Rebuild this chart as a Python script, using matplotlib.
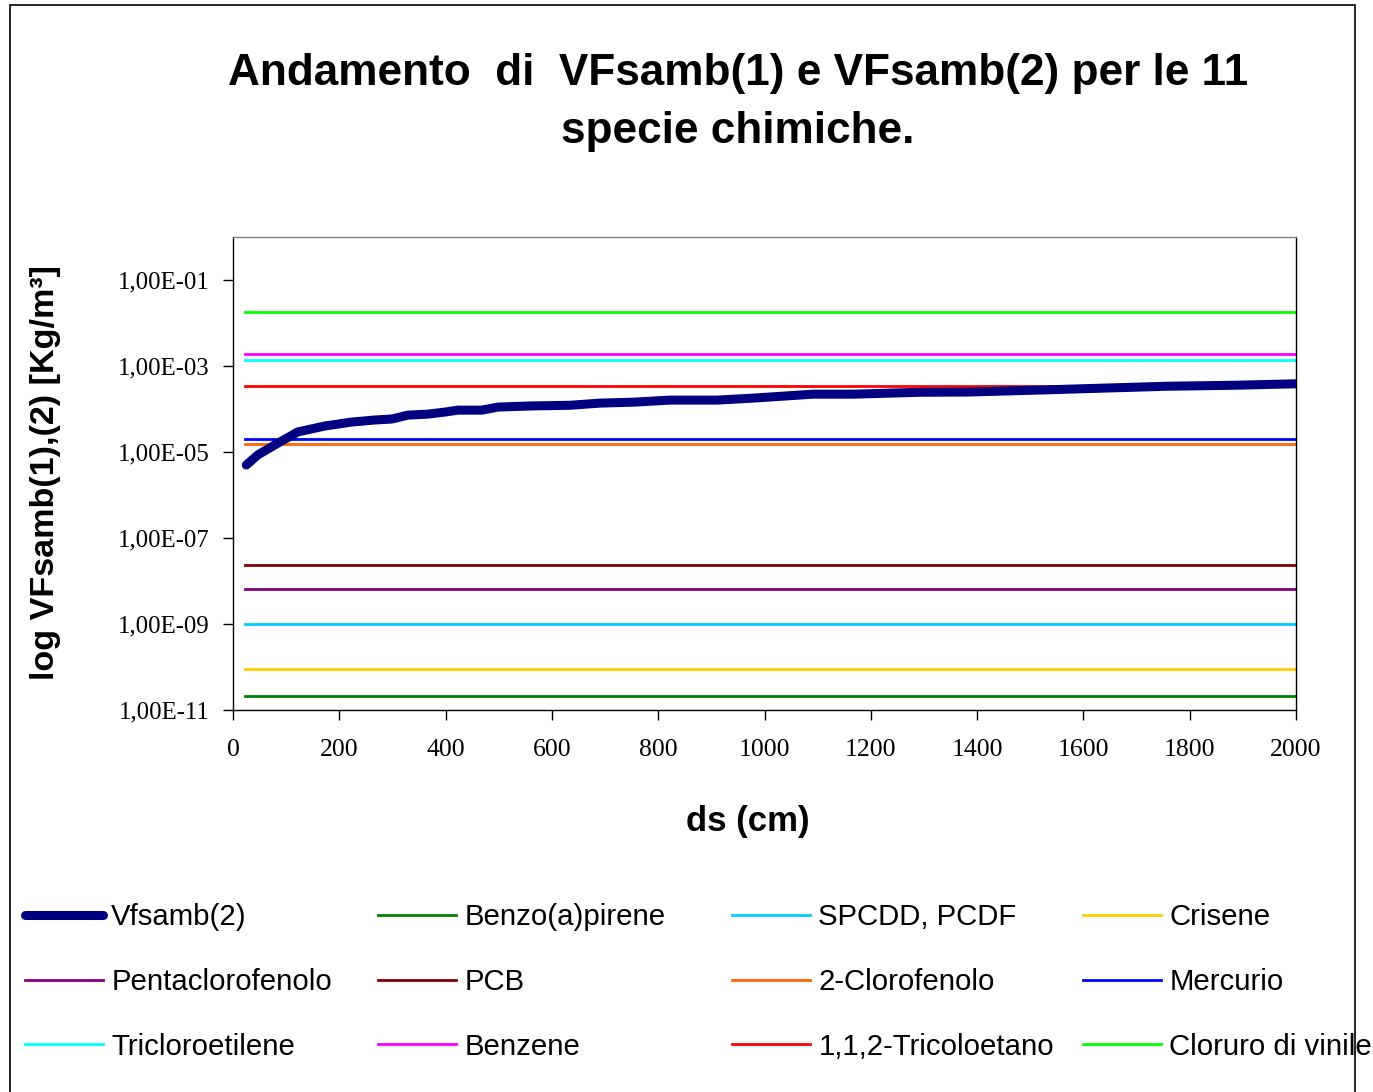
import matplotlib
matplotlib.use('Agg')
import matplotlib.pyplot as plt
from matplotlib.patches import Rectangle
from matplotlib.ticker import FixedLocator, FuncFormatter

# VFsamb(2) curve
ds = [25, 47, 79, 122, 173, 224, 267, 299, 329, 367, 399, 423, 468, 499,
      563, 634, 690, 753, 822, 911, 978, 1091, 1166, 1230, 1293, 1381,
      1505, 1631, 1757, 1881, 2000]
vf2 = [4.98e-6, 8.6e-6, 1.47e-5, 2.93e-5, 4.03e-5, 4.98e-5, 5.55e-5, 5.85e-5,
       7.2e-5, 7.6e-5, 8.5e-5, 9.4e-5, 9.4e-5, 1.11e-4, 1.18e-4, 1.22e-4,
       1.37e-4, 1.44e-4, 1.61e-4, 1.61e-4, 1.79e-4, 2.21e-4, 2.21e-4,
       2.33e-4, 2.45e-4, 2.48e-4, 2.73e-4, 3.04e-4, 3.38e-4, 3.56e-4, 3.86e-4]

# VFsamb(1): constant per species
ds_range = [22, 2000]
species = ['Benzo(a)pirene', 'SPCDD, PCDF', 'Crisene', 'Pentaclorofenolo',
           'PCB', '2-Clorofenolo', 'Mercurio', 'Tricloroetilene', 'Benzene',
           '1,1,2-Tricoloetano', 'Cloruro di vinile']
vf1 = [2.1e-11, 1.0e-9, 9.0e-11, 6.6e-9, 2.4e-8, 1.55e-5, 2.0e-5,
       1.35e-3, 1.95e-3, 3.4e-4, 1.8e-2]
colors = ['#008000', '#00CCFF', '#FFCC00', '#800080', '#800000', '#FF6600',
          '#0000FF', '#00FFFF', '#FF00FF', '#FF0000', '#00FF00']

xticks = list(range(0, 2001, 200))
yticks = [1e-11, 1e-9, 1e-7, 1e-5, 1e-3, 1e-1]

fig = plt.figure(figsize=(13.73, 10.92), dpi=100)
fig.patches.append(Rectangle((10/1373, -0.02), 1345/1373, 1.02 - 5/1092,
                             transform=fig.transFigure, fill=False,
                             edgecolor='black', lw=1.2))

ax = fig.add_axes([233/1373, 1 - 710/1092, 1063/1373, 473/1092])
handles = {}
for name, v, c in zip(species, vf1, colors):
	h, = ax.plot(ds_range, [v, v], color=c, lw=2.0)
	handles[name] = h
h, = ax.plot(ds, vf2, color='#000080', lw=6.5, solid_capstyle='round',
             solid_joinstyle='round', zorder=5)
handles['Vfsamb(2)'] = h

ax.set_yscale('log')
ax.set_ylim(1e-11, 1)
ax.set_xlim(0, 2000)
ax.yaxis.set_major_locator(FixedLocator(yticks))
ax.yaxis.set_minor_locator(FixedLocator([]))
ax.yaxis.set_major_formatter(FuncFormatter(lambda v, p: ('%.2E' % v).replace('.', ',')))
ax.set_xticks(xticks)
ax.tick_params(direction='out', length=7, width=1, color='black')
ax.tick_params(axis='x', pad=14, labelsize=18.5)
ax.tick_params(axis='y', pad=10, labelsize=17.8)
for lab in ax.get_xticklabels() + ax.get_yticklabels():
	lab.set_family('Liberation Serif')
for s in ax.spines.values():
	s.set_color('black')
	s.set_linewidth(1)
ax.spines['top'].set_color('#808080')

fig.text(738/1373, 1 - 73/1092, 'Andamento  di  VFsamb(1) e VFsamb(2) per le 11',
         ha='center', va='center', fontsize=31.8, fontweight='bold',
         family='Liberation Sans')
fig.text(738/1373, 1 - 131/1092, 'specie chimiche.', ha='center', va='center',
         fontsize=31.8, fontweight='bold', family='Liberation Sans')
fig.text(46/1373, 1 - 473/1092, 'log VFsamb(1),(2) [Kg/m³]', rotation=90,
         ha='center', va='center', fontsize=24.6, fontweight='bold',
         family='Liberation Sans')
fig.text(748/1373, 1 - 822/1092, 'ds (cm)', ha='center', va='center',
         fontsize=25, fontweight='bold', family='Liberation Sans')

# legend, four columns laid out like the original
columns = [['Vfsamb(2)', 'Pentaclorofenolo', 'Tricloroetilene'],
           ['Benzo(a)pirene', 'PCB', 'Benzene'],
           ['SPCDD, PCDF', '2-Clorofenolo', '1,1,2-Tricoloetano'],
           ['Crisene', 'Mercurio', 'Cloruro di vinile']]
col_x = [25, 378, 732, 1083]
for names, x0 in zip(columns, col_x):
	fig.legend([handles[n] for n in names], names, loc='upper left',
	           bbox_to_anchor=(x0/1373, 1 - 903/1092), frameon=False,
	           handlelength=2.65, handletextpad=0.28,
	           labelspacing=1.25, borderpad=0, borderaxespad=0,
	           prop={'family': 'Liberation Sans', 'size': 21.2})

fig.savefig('out.png', dpi=100)
